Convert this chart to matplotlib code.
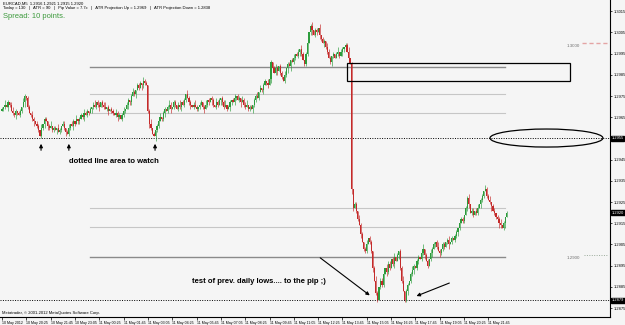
import numpy as np
import matplotlib
matplotlib.use('Agg')
import matplotlib.pyplot as plt
from matplotlib.patches import Rectangle, Ellipse
import matplotlib.transforms as mtransforms

# EURCAD M5 closes, in pips above 1.2900 (10 May 19:05 -> 11 May 22:45)
closes_pips = [
    69, 70, 71, 70, 72, 71, 68, 67, 66, 68, 67, 66, 68, 70, 72, 75, 74, 70, 67, 66, 64, 63, 62, 61, 59, 56,
    60, 62, 64, 63, 61, 60, 61, 59, 60, 59, 60, 58, 59, 61, 62, 60, 58, 57, 60, 62,
    61, 63, 62, 64, 63, 64, 66, 65, 67, 66, 68, 67, 69, 70, 71, 70, 72, 71, 70, 72, 71, 70, 69, 70, 68, 69,
    68, 67, 66, 67, 65, 66, 64, 66, 68, 69, 71, 73, 72, 75, 77, 76, 78, 80, 79, 81, 80, 82, 81, 80,
    68, 62, 60, 57, 56, 59,
    61, 63, 65, 64, 67, 69, 68, 70, 71, 69, 70, 72, 71, 69, 71, 70, 72, 71, 73, 76, 74, 72, 71, 70, 71,
    70, 69, 70, 71,
    72, 70, 69, 71, 73, 72, 74, 73, 71, 70, 72, 71, 73, 74, 72, 70, 71, 69, 70, 72, 73, 72, 74, 75, 73,
    74, 72, 73, 71, 70, 71, 69, 70, 69,
    71, 73, 75, 74, 77, 79, 78, 80, 82, 81, 80, 83, 91, 88, 86, 88, 87, 89, 86, 84, 82, 85, 88, 90, 89,
    92, 91, 93, 95, 94, 96, 97, 95, 92, 90,
    95, 100, 105, 108, 106, 104, 106, 105, 107, 104, 102, 100, 101, 98, 96, 93, 91, 94, 95, 93,
    95, 96, 94, 96, 97, 98, 99, 96, 93, 90, 31,
    22, 24, 21, 17, 14, 10, 6, 3, 2, 5, 8, 6, 2, -6, -12, -18, -21,
    -15, -12, -14, -9, -6, -8, -4, -6, -2, -4, -1, -3, 0, 2, -6, -12, -17, -21,
    -17, -14, -12, -9, -7, -5, -6, -3, -1, -2, 1, 3, 0, -3, -5, -2, 1, 3, 5, 6, 4, 2, 1, 3, 5,
    4, 6, 7, 5, 6, 8, 7, 9, 11, 13,
    15, 17, 16, 19, 22, 27, 24, 20, 21, 19, 21, 20, 22, 24, 26, 28, 30, 31, 28, 26, 25, 23, 21, 20, 18,
    17, 15, 14, 13, 15, 18, 20,
]
first_open = 1.2968
# wick sizes in pips above / below the body
upper_wick = ("1021101201 0110210110 2101102011 0120110210 1101201102 0110211010 1201101120 "
              "1011021101 2011012101 1102110120 1011201101 2101101201 1021101210 1101201011 "
              "0211011201 1012011021 1201101120 1011021101 2101102011 0120110210 1101201102 "
              "0110211010 1201101120 1011021101 2011012101 1102110120 1011201101 2101101201 "
              "1021101210 1101201011 0211011201 1012011021 1201101120 1011021101")
lower_wick = ("0110210112 1011021101 1201101120 2101102011 0120110210 1101201102 1011201101 "
              "2011012101 1102110120 1021101210 0211011201 1201101120 1101201011 1012011021 "
              "0110211010 2101101201 1011021101 0120110210 1201101120 2011012101 1101201102 "
              "1021101210 0110211010 2101102011 1011201101 1102110120 0211011201 1201101120 "
              "1012011021 1101201011 2101101201 1011021101 0120110210 1201101120")

time_labels = ["10 May 2012", "10 May 20:25", "10 May 21:45", "10 May 23:05", "11 May 00:25",
               "11 May 01:45", "11 May 03:05", "11 May 04:25", "11 May 05:45", "11 May 07:05",
               "11 May 08:25", "11 May 09:45", "11 May 11:05", "11 May 12:25", "11 May 13:45",
               "11 May 15:05", "11 May 16:25", "11 May 17:45", "11 May 19:05", "11 May 20:25",
               "11 May 21:45"]
price_ticks = [1.3015, 1.3005, 1.2995, 1.2985, 1.2975, 1.2965, 1.2945, 1.2935, 1.2925,
               1.2915, 1.2905, 1.2895, 1.2885, 1.2875]
levels_light = [1.29759, 1.29670, 1.29222, 1.29132]
levels_dark = [1.29887, 1.28991]
dotted_levels = [1.29552, 1.28788]
marked = [(1.29552, "1.2955"), (1.2920, "1.2920"), (1.28788, "1.2879")]

plt.rcParams['font.family'] = ['Liberation Sans', 'DejaVu Sans']
bg = '#f5f5f5'

closes = 1.29 + np.array(closes_pips) / 10000.0
n = len(closes)
opens = np.r_[first_open, closes[:-1]]
uw = np.array([int(c) for c in upper_wick.replace(" ", "")][:n]) / 10000.0
lw_ = np.array([int(c) for c in lower_wick.replace(" ", "")][:n]) / 10000.0
highs = np.maximum(opens, closes) + uw
lows = np.minimum(opens, closes) - lw_
idx = np.arange(n)
up = closes >= opens
cols = np.where(up, '#2c9c3c', '#c42a2a')

fig = plt.figure(figsize=(6.25, 3.25), dpi=100, facecolor=bg)
ax = fig.add_axes([0, 8 / 325, 610 / 625, 317 / 325], facecolor=bg)

# level lines
for lv in levels_light:
    ax.plot([58, 331], [lv, lv], color='#c6c6c6', lw=0.8, zorder=1)
for lv in levels_dark:
    ax.plot([58, 331], [lv, lv], color='#8a8a8a', lw=1.0, zorder=1)
for lv in dotted_levels:
    ax.axhline(lv, color='black', lw=0.7, ls=(0, (1, 1.5)), zorder=1)

# candles
body = closes - opens
body[body == 0] = 0.00003
ax.vlines(idx, lows, highs, colors=cols, lw=0.45, zorder=2)
ax.bar(idx, body, bottom=opens, width=0.75, color=cols, lw=0, zorder=3)

# drawn objects
ax.add_patch(Rectangle((227, 1.29821), 146.7, 0.00085, fill=False, ec='black', lw=0.9, zorder=4))
ax.add_patch(Ellipse((358.2, 1.29552), 74.3, 0.00085, fill=False, ec='black', lw=0.9, zorder=4))

ax.plot([381.5, 399], [1.3000, 1.3000], color='#e4a4a4', lw=1.0, ls=(0, (3, 2)))
ax.text(371.5, 1.29985, "1.3000", fontsize=3.2, color='#707070', va='center')
ax.plot([383, 399], [1.2900, 1.2900], color='#9aaa9a', lw=0.7, ls=(0, (1, 1.5)))
ax.text(371.5, 1.28985, "1.2900", fontsize=3.2, color='#707070', va='center')

akw = dict(arrowstyle='-|>', color='black', lw=0.8, mutation_scale=5)
for bx in [25.7, 44.0, 100.7]:
    ax.annotate("", xy=(bx, 1.29538), xytext=(bx, 1.29481), arrowprops=akw)
ax.annotate("", xy=(243.4, 1.28802), xytext=(207.9, 1.28995), arrowprops=akw)
ax.annotate("", xy=(271.0, 1.28802), xytext=(296.0, 1.28873), arrowprops=akw)

ax.text(44.0, 1.29443, "dotted line area to watch", fontsize=5.5, fontweight='bold',
        va='center', ha='left')
ax.text(213.0, 1.28877, "test of prev. daily lows.... to the pip ;)", fontsize=5.5,
        fontweight='bold', va='center', ha='right')

# axes
ax.set_xlim(-1.3, 400)
ax.set_ylim(1.28708, 1.30203)
ax.yaxis.tick_right()
ax.set_yticks(price_ticks)
ax.set_yticklabels([f"{p:.4f}" for p in price_ticks])
ax.tick_params(axis='y', labelsize=2.9, length=1.5, width=0.5, pad=1)
ax.set_xticks(np.arange(len(time_labels)) * 16)
ax.set_xticklabels(time_labels, ha='left')
ax.tick_params(axis='x', labelsize=2.6, length=2.5, width=0.5, pad=0.3)
for s in ['top', 'left']:
    ax.spines[s].set_visible(False)
for s in ['right', 'bottom']:
    ax.spines[s].set_linewidth(0.8)

trans = mtransforms.blended_transform_factory(ax.transAxes, ax.transData)
for p, lab in marked:
    ax.text(1.003, p, lab, transform=trans, fontsize=2.9, color='white', va='center', ha='left',
            bbox=dict(boxstyle='square,pad=0.12', fc='black', ec='black'), clip_on=False, zorder=6)

# header texts
fig.text(3 / 625, 1 - 3.5 / 325, "EURCAD,M5  1.2916 1.2921 1.2915 1.2920", fontsize=3, va='center')
fig.text(3 / 625, 1 - 8.5 / 325,
         "Today = 130   |   ATR = 90   |   Pip Value = 7.7c   |   ATR Projection Up = 1.2969   |   "
         "ATR Projection Down = 1.2838", fontsize=3, va='center')
fig.text(3 / 625, 1 - 17 / 325, "Spread: 10 points.", fontsize=5.5, color='#3c9a3c', va='center')
fig.text(2 / 625, 1 - 313 / 325, "Metatrader, \u00a9 2001-2012 MetaQuotes Software Corp.",
         fontsize=3, va='center')

fig.savefig('out.png', dpi=100, facecolor=bg)
